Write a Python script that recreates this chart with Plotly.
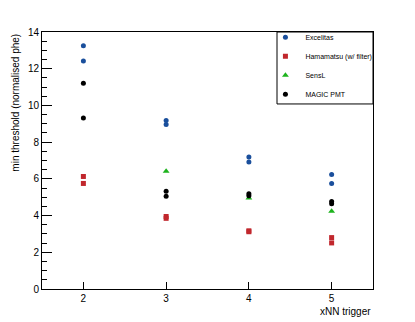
import plotly.graph_objects as go

# xNN trigger values
trigger = [2, 2, 3, 3, 4, 4, 5, 5]

excelitas = [13.25, 12.42, 9.18, 8.96, 7.19, 6.92, 6.24, 5.75]
hamamatsu = [6.13, 5.75, 3.95, 3.85, 3.17, 3.12, 2.80, 2.51]
sensl_x = [3, 4, 5]
sensl = [6.41, 4.96, 4.23]
magic = [11.21, 9.31, 5.32, 5.05, 5.19, 5.08, 4.77, 4.65]

font = "Liberation Sans, Arial, sans-serif"

fig = go.Figure()
fig.add_trace(go.Scatter(x=trigger, y=excelitas, mode='markers', name='Excelitas',
                         marker=dict(color='#1a4f9c', size=5, symbol='circle')))
fig.add_trace(go.Scatter(x=trigger, y=hamamatsu, mode='markers', name='Hamamatsu (w/ filter)',
                         marker=dict(color='#c1272d', size=5, symbol='square')))
fig.add_trace(go.Scatter(x=sensl_x, y=sensl, mode='markers', name='SensL',
                         marker=dict(color='#1db31d', size=6, symbol='triangle-up')))
fig.add_trace(go.Scatter(x=trigger, y=magic, mode='markers', name='MAGIC PMT',
                         marker=dict(color='black', size=5, symbol='circle')))

fig.update_layout(
    width=415, height=322,
    margin=dict(l=42, r=42, t=32, b=33),
    plot_bgcolor='white', paper_bgcolor='white',
    font=dict(family=font, size=10, color='black'),
    legend=dict(x=0.675, y=1.036, xanchor='left', yanchor='top',
                borderwidth=0, bgcolor='rgba(0,0,0,0)',
                font=dict(size=7), itemwidth=30, tracegroupgap=0),
)
# legend frame (ROOT style box)
fig.add_shape(type='rect', xref='paper', yref='paper', x0=0.71, x1=1.0, y0=0.72, y1=1.0,
              line=dict(color='black', width=1), fillcolor='white', layer='below')
fig.update_xaxes(range=[1.5, 5.5], tickvals=[2, 3, 4, 5], ticks='inside', ticklen=7,
                 tickcolor='black', showline=True, linecolor='black', mirror=True,
                 showgrid=False, zeroline=False)
fig.update_yaxes(range=[0, 14], dtick=2, ticks='inside', ticklen=10, tickcolor='black',
                 minor=dict(dtick=0.5, ticks='inside', ticklen=5, tickcolor='black'),
                 showline=True, linecolor='black', mirror=True,
                 showgrid=False, zeroline=False)

fig.add_annotation(text='xNN trigger', xref='paper', yref='paper', x=1, y=-0.06,
                   xanchor='right', yanchor='top', showarrow=False, font=dict(size=10))
fig.add_annotation(text='min threshold (normalised phe)', xref='paper', yref='paper',
                   x=-0.06, y=1, xanchor='right', yanchor='top', textangle=-90,
                   showarrow=False, font=dict(size=10))

fig.write_html("out.html", config={'displayModeBar': False},
               post_script="document.body.style.margin='0';")
